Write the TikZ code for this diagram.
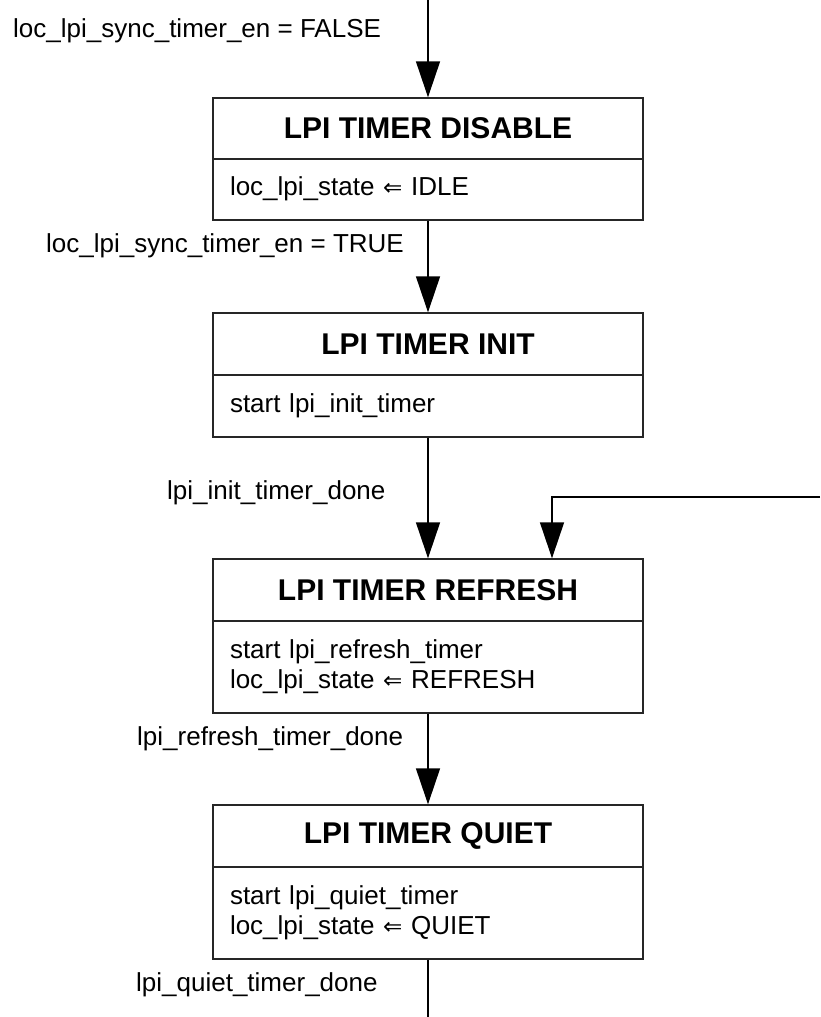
\documentclass[tikz,border=0pt]{standalone}
\usepackage{fontspec}
\setmainfont{Liberation Sans}
\newfontfamily\symfont{DejaVu Sans}
\usetikzlibrary{arrows.meta}
\newcommand{\lar}{{\symfont\fontsize{23}{20}\selectfont ⇐}}
\begin{document}
\begin{tikzpicture}[x=1pt,y=-1pt,
  boxline/.style={draw=black!85,line width=1.4pt},
  titlebox/.style={boxline,minimum width=430pt,minimum height=61pt,inner sep=0pt,
    font=\fontsize{30}{32}\selectfont\bfseries},
  bodybox/.style={boxline,minimum width=430pt,inner xsep=17pt,inner ysep=0pt,
    text width=396pt,align=left,font=\fontsize{26}{30}\selectfont},
  lbl/.style={anchor=west,inner sep=0pt,font=\fontsize{26}{30}\selectfont},
  arr/.style={draw=black,line width=1.4pt,-{Triangle[length=36pt,width=24pt]}},
  plainline/.style={draw=black,line width=1.4pt}
]
\useasboundingbox (0,0) rectangle (820,1017);
\fill[white] (0,0) rectangle (820,1017);

% boxes
\node[titlebox] (t1) at (428,128.5) {LPI TIMER DISABLE};
\node[bodybox,minimum height=61pt] (b1) at (428,189.5) {\strut loc\_lpi\_state \lar{} IDLE};

\node[titlebox,minimum height=62pt] (t2) at (428,344) {LPI TIMER INIT};
\node[bodybox,minimum height=62pt] (b2) at (428,406) {\strut start lpi\_init\_timer};

\node[titlebox,minimum height=62pt] (t3) at (428,590) {LPI TIMER REFRESH};
\node[bodybox,minimum height=92pt] (b3) at (428,667) {start lpi\_refresh\_timer\\loc\_lpi\_state \lar{} REFRESH};

\node[titlebox,minimum height=62pt] (t4) at (428,836) {LPI TIMER QUIET};
\node[bodybox,minimum height=92pt] (b4) at (428,913) {start lpi\_quiet\_timer\\loc\_lpi\_state \lar{} QUIET};

% coordinates
\coordinate (top) at (428,0);
\coordinate (bot) at (428,1017);
\coordinate (loopin) at (820,497);

% connectors
\draw[arr] (top) -- (t1.north);
\draw[arr] (b1.south) -- (t2.north);
\draw[arr] (b2.south) -- (t3.north);
\draw[arr] (loopin) -| ([xshift=124pt]t3.north);
\draw[arr] (b3.south) -- (t4.north);
\draw[plainline] (b4.south) -- (bot);

% labels
\node[lbl] (l1) at (13,31) {loc\_lpi\_sync\_timer\_en = FALSE};
\node[lbl] (l2) at (46,246) {loc\_lpi\_sync\_timer\_en = TRUE};
\node[lbl] (l3) at (167,493) {lpi\_init\_timer\_done};
\node[lbl] (l4) at (137,739) {lpi\_refresh\_timer\_done};
\node[lbl] (l5) at (136,985) {lpi\_quiet\_timer\_done};
\end{tikzpicture}
\end{document}
